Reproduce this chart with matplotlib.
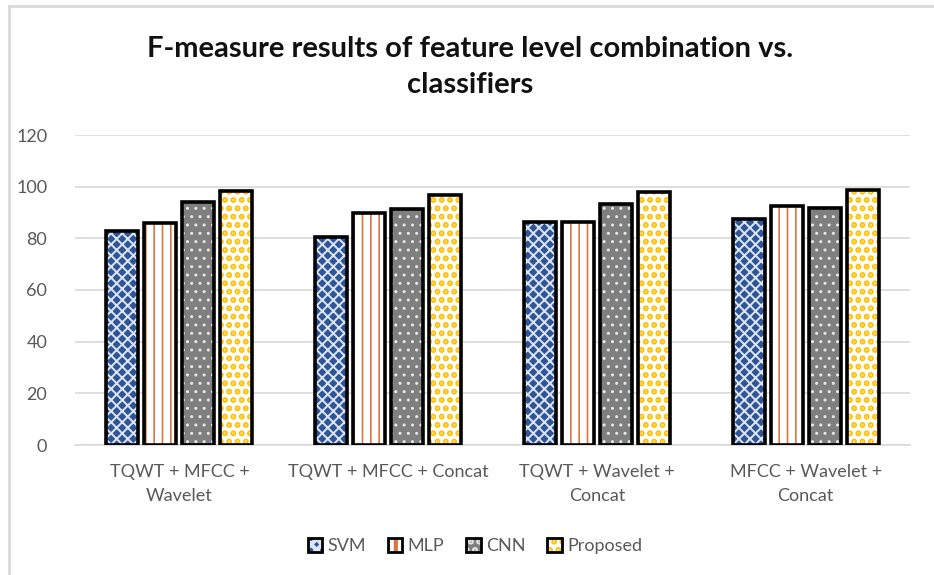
import matplotlib
matplotlib.use("Agg")
import matplotlib.pyplot as plt
import numpy as np
from matplotlib.lines import Line2D
from matplotlib.patches import Patch
from matplotlib.legend_handler import HandlerTuple

plt.rcParams['font.family'] = ['Lato', 'DejaVu Sans']

categories = ["TQWT + MFCC +\nWavelet", "TQWT + MFCC + Concat", "TQWT + Wavelet +\nConcat", "MFCC + Wavelet +\nConcat"]
series = ["SVM", "MLP", "CNN", "Proposed"]
svm = [83, 80.5, 86.3, 87.5]
mlp = [85.8, 90, 86.2, 92.5]
cnn = [94.2, 91.5, 93.3, 91.8]
proposed = [98.2, 96.8, 97.8, 98.7]
values = [svm, mlp, cnn, proposed]
yticks = [0, 20, 40, 60, 80, 100, 120]

styles = [
    dict(face='#2F5597', hatch='xxx', hcol='#DDE6F5', hlw=1.4),
    dict(face='white', hatch='||', hcol='#D9773F', hlw=1.2),
    dict(face='#7F7F7F', hatch='..', hcol='#E8E8E8', hlw=1.0),
    dict(face='white', hatch='..', hcol='#FFC000', hlw=3.0),
]

fig = plt.figure(figsize=(9.34, 5.75), dpi=100)
ax = fig.add_axes([75/934, 1-445/575, 835/934, 310/575])

x = np.arange(len(categories))
w = 0.153
pitch = 0.182
handles = []
for i, (vals, st) in enumerate(zip(values, styles)):
    plt.rcParams['hatch.linewidth'] = st['hlw']
    pos = x + (i - 1.5) * pitch
    ax.bar(pos, vals, w, color=st['face'], hatch=st['hatch'], edgecolor=st['hcol'], linewidth=0, zorder=3)
    ax.bar(pos, vals, w, fill=False, edgecolor='black', linewidth=2.6, zorder=4)
    h1 = Patch(facecolor=st['face'], hatch=st['hatch'], edgecolor=st['hcol'], linewidth=0)
    h2 = Patch(fill=False, edgecolor='black', linewidth=2.0)
    handles.append((h1, h2))

ax.set_xlim(-0.5, 3.5)
ax.set_ylim(0, 120)
ax.set_yticks(yticks)
ax.set_xticks(x)
ax.set_xticklabels(categories, linespacing=1.6)
ax.tick_params(axis='both', length=0, labelsize=13, colors='#595959')
ax.tick_params(axis='x', pad=14)
ax.tick_params(axis='y', pad=20)
ax.yaxis.grid(True, color='#D9D9D9', linewidth=1.2, zorder=0)
for s in ['top', 'right', 'left']:
    ax.spines[s].set_visible(False)
ax.spines['bottom'].set_color('#D9D9D9')
ax.spines['bottom'].set_linewidth(1.2)

fig.text(470/934, 1-67/575, "F-measure results of feature level combination vs.\nclassifiers",
         ha='center', va='center', fontsize=21, fontweight='bold', color='#111111', linespacing=1.5)

leg = fig.legend(handles, series, loc='center', bbox_to_anchor=(475/934, 1-546/575), ncol=4,
                 frameon=False, fontsize=13, handlelength=0.8, handleheight=0.8,
                 handletextpad=0.3, columnspacing=1.2,
                 handler_map={tuple: HandlerTuple(ndivide=1, pad=0)})
for t in leg.get_texts():
    t.set_color('#595959')

fig.add_artist(Line2D([9/934, 9/934], [0, 1-6/575], color='#D9D9D9', linewidth=2, transform=fig.transFigure))
fig.add_artist(Line2D([9/934, 1], [1-6/575, 1-6/575], color='#D9D9D9', linewidth=2, transform=fig.transFigure))

fig.savefig('out.png', dpi=100)
